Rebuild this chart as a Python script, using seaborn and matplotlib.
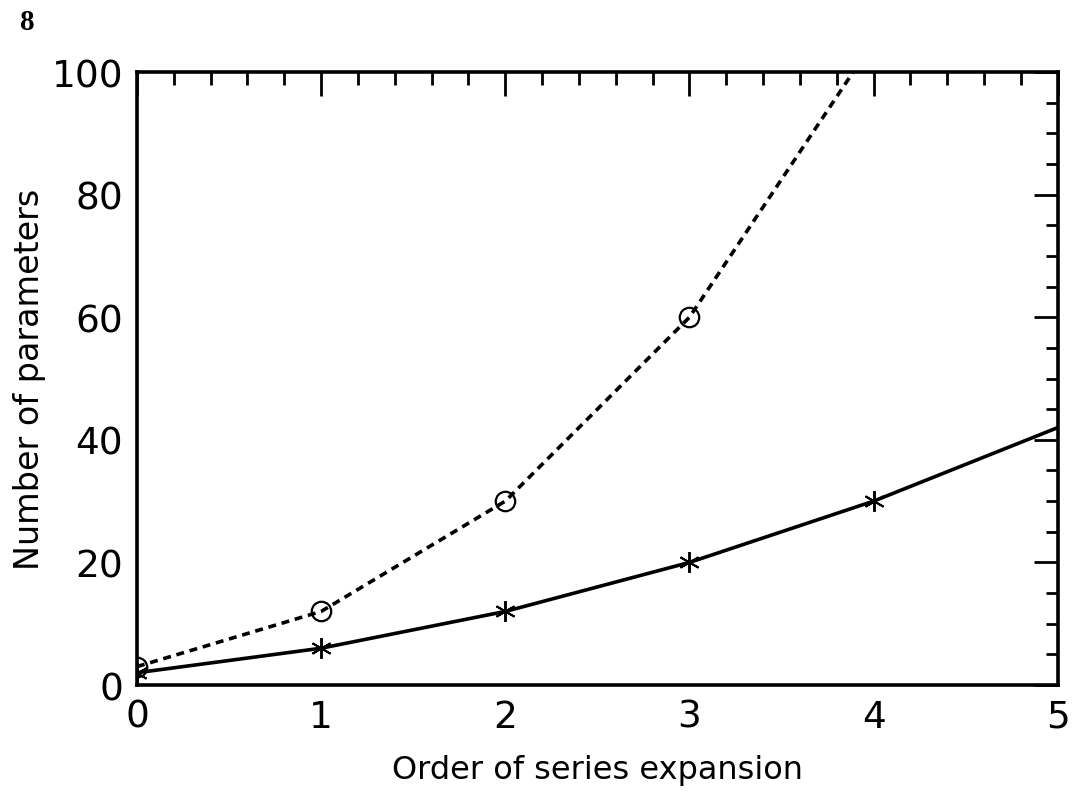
import matplotlib
matplotlib.use("Agg")
import matplotlib.pyplot as plt
import seaborn as sns
import pandas as pd
from matplotlib.ticker import MultipleLocator

# data
orders = [0, 1, 2, 3, 4, 5]
params_solid = [2, 6, 12, 20, 30, 42]
orders_dashed = [0, 1, 2, 3, 4]
params_dashed = [3, 12, 30, 60, 105]

sns.set_style("white")
plt.rcParams['font.family'] = ['DejaVu Sans']
plt.rcParams['text.color'] = 'black'
plt.rcParams['axes.labelcolor'] = 'black'

fig = plt.figure(figsize=(10.75, 8.03), dpi=100)
ax = fig.add_axes([0.1274, 0.1457, 0.8566, 0.7633])

df_solid = pd.DataFrame({'order': orders, 'n': params_solid})
df_dashed = pd.DataFrame({'order': orders_dashed, 'n': params_dashed})

# solid line, asterisks at integer orders up to 4
sns.lineplot(data=df_solid, x='order', y='n', ax=ax, color='black', lw=2.6,
             marker=(6, 2, 0), markersize=15, markeredgewidth=1.4,
             markeredgecolor='black', markevery=[0, 1, 2, 3, 4])
# dashed line with open circles
sns.lineplot(data=df_dashed, x='order', y='n', ax=ax, color='black', lw=2.6,
             linestyle=(0, (2.2, 1.6)), marker='o', markersize=14,
             markerfacecolor='none', markeredgecolor='black',
             markeredgewidth=1.6)

ax.set_xlim(0, 5)
ax.set_ylim(0, 100)
ax.xaxis.set_major_locator(MultipleLocator(1))
ax.xaxis.set_minor_locator(MultipleLocator(0.2))
ax.yaxis.set_major_locator(MultipleLocator(20))
ax.yaxis.set_minor_locator(MultipleLocator(5))
ax.tick_params(which='both', direction='in', top=True, right=True,
               width=2, colors='black')
ax.tick_params(which='major', length=17, labelsize=27, pad=10)
ax.tick_params(which='minor', length=9)
for s in ax.spines.values():
    s.set_linewidth(2.6)
    s.set_color('black')

ax.set_xlabel('Order of series expansion', fontsize=23, labelpad=14)
ax.set_ylabel('Number of parameters', fontsize=24, labelpad=4)

fig.text(0.025, 0.972, '8', fontsize=21, fontweight='bold',
         family='Liberation Serif', ha='center', va='center')

fig.savefig('out.png', dpi=100)
